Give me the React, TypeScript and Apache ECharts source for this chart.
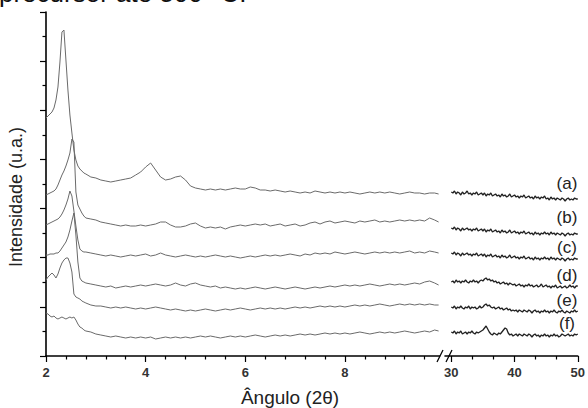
import React, { useEffect, useRef } from "react";
import * as echarts from "echarts";

// 2θ positions, low-angle panel (degrees)
const X_LEFT = [
  2, 2.04, 2.08, 2.12, 2.16, 2.2, 2.24, 2.28, 2.32, 2.36, 2.4, 2.44, 2.48, 2.52, 2.56, 2.6, 2.64, 2.68, 2.72, 2.76, 2.8,
  2.9, 3, 3.1, 3.2, 3.3, 3.4, 3.5, 3.6, 3.7, 3.8,
  3.9, 4, 4.1, 4.2, 4.3, 4.4, 4.5, 4.6, 4.7, 4.8,
  4.9, 5, 5.1, 5.2, 5.3, 5.4, 5.5, 5.6, 5.7, 5.8,
  5.9, 6, 6.1, 6.2, 6.3, 6.4, 6.5, 6.6, 6.7, 6.8,
  6.9, 7, 7.1, 7.2, 7.3, 7.4, 7.5, 7.6, 7.7, 7.8,
  7.9, 8, 8.1, 8.2, 8.3, 8.4, 8.5, 8.6, 8.7, 8.8,
  8.9, 9, 9.1, 9.2, 9.3, 9.4, 9.5, 9.6, 9.7, 9.8,
  9.88,
];

// 2θ positions, wide-angle panel (degrees)
const X_RIGHT = [
  30, 30.25, 30.5, 30.75, 31, 31.25, 31.5, 31.75, 32, 32.25, 32.5, 32.75, 33, 33.25, 33.5, 33.75, 34, 34.25, 34.5, 34.75,
  35, 35.25, 35.5, 35.75, 36, 36.25, 36.5, 36.75, 37, 37.25, 37.5, 37.75, 38, 38.25, 38.5, 38.75, 39, 39.25, 39.5, 39.75,
  40, 40.25, 40.5, 40.75, 41, 41.25, 41.5, 41.75, 42, 42.25, 42.5, 42.75, 43, 43.25, 43.5, 43.75, 44, 44.25, 44.5, 44.75,
  45, 45.25, 45.5, 45.75, 46, 46.25, 46.5, 46.75, 47, 47.25, 47.5, 47.75, 48, 48.25, 48.5, 48.75, 49, 49.25, 49.5, 49.75,
  50,
];

// Intensities (u.a., curves offset as displayed)
const A_LEFT = [
  238, 240, 242, 244, 248, 256, 269, 294, 324, 326, 296, 266, 241, 223, 206, 196, 190, 187, 185, 183, 182,
  179, 178, 176, 175, 174, 175, 176, 177, 178, 181,
  184, 189, 193, 186, 179, 176, 177, 179, 180, 176,
  170, 168, 167, 166, 167, 166, 167, 166, 167, 168,
  167, 167, 169, 168, 166, 166, 165, 166, 165, 164,
  165, 164, 163, 164, 163, 165, 164, 163, 164, 163,
  164, 163, 164, 163, 162, 163, 164, 163, 164, 163,
  164, 163, 162, 163, 164, 163, 163, 162, 163, 163,
  162,
];
const B_LEFT = [
  161, 162, 163, 164, 165, 167, 171, 176, 181, 185, 190, 196, 203, 217, 214, 164, 151, 147, 143, 140, 138,
  137, 136, 134, 133, 132, 131, 130, 131, 130, 130,
  131, 130, 131, 132, 134, 134, 131, 129, 129, 130,
  132, 133, 130, 128, 129, 128, 129, 127, 129, 130,
  131, 130, 131, 132, 131, 132, 130, 131, 132, 130,
  131, 132, 130, 131, 133, 134, 132, 134, 135, 133,
  134, 135, 134, 133, 135, 134, 135, 136, 134, 135,
  134, 135, 136, 135, 136, 135, 136, 135, 138, 136,
  134,
];
const C_LEFT = [
  131, 132, 133, 134, 135, 136, 137, 139, 142, 146, 151, 157, 165, 160, 145, 130, 116, 107, 105, 104, 104,
  103, 102, 101, 100, 101, 100, 99, 100, 101, 100,
  101, 102, 100, 101, 103, 101, 100, 99, 100, 101,
  100, 99, 100, 99, 100, 101, 100, 99, 100, 99,
  98, 99, 100, 99, 100, 101, 100, 101, 100, 101,
  102, 101, 100, 102, 101, 103, 102, 103, 102, 104,
  103, 102, 103, 104, 103, 102, 103, 104, 103, 104,
  103, 104, 103, 104, 105, 103, 104, 103, 105, 104,
  103,
];
const D_LEFT = [
  101, 101, 102, 102, 102, 103, 103, 105, 108, 111, 114, 119, 126, 135, 143, 121, 94, 78, 75, 74, 73,
  72, 71, 70, 69, 70, 68, 69, 70, 69, 70,
  71, 70, 71, 72, 71, 70, 71, 73, 71, 70,
  72, 73, 71, 70, 69, 70, 68, 69, 68, 67,
  68, 67, 68, 69, 68, 67, 68, 69, 68, 67,
  68, 69, 68, 67, 68, 69, 68, 69, 70, 69,
  70, 71, 70, 71, 70, 71, 72, 71, 70, 71,
  72, 71, 72, 71, 72, 73, 72, 74, 75, 73,
  71,
];
const E_LEFT = [
  76, 79, 81, 83, 81, 78, 82, 88, 93, 96, 98, 98, 93, 84, 62, 59, 58, 57, 55, 54, 53,
  51, 50, 50, 49, 48, 49, 48, 49, 48, 47,
  48, 47, 48, 49, 48, 47, 46, 47, 46, 45,
  46, 45, 46, 47, 46, 45, 46, 47, 46, 47,
  48, 47, 46, 47, 48, 47, 48, 47, 48, 47,
  48, 49, 48, 49, 48, 49, 50, 49, 50, 49,
  50, 49, 50, 51, 50, 51, 50, 51, 52, 51,
  50, 51, 52, 51, 52, 51, 52, 51, 52, 51,
  51,
];
const F_LEFT = [
  43, 42, 40, 39, 40, 38, 37, 38, 39, 38, 37, 38, 39, 38, 39, 36, 32, 29, 28, 26, 25,
  24, 22, 21, 20, 19, 20, 19, 18, 19, 18,
  19, 18, 19, 17, 18, 19, 18, 19, 18, 19,
  18, 19, 20, 19, 20, 19, 18, 19, 20, 19,
  20, 19, 20, 21, 20, 19, 20, 21, 20, 21,
  20, 21, 22, 21, 22, 21, 22, 23, 22, 23,
  22, 23, 22, 23, 24, 23, 22, 23, 24, 23,
  24, 23, 24, 25, 24, 23, 24, 25, 24, 26,
  25,
];

const A_RIGHT = [
  164, 163, 165, 162, 164, 163, 161, 164, 162, 163, 165, 162, 163, 161, 163, 162, 164, 161, 162, 163,
  161, 163, 160, 162, 161, 163, 160, 161, 162, 160, 161, 159, 162, 160, 161, 159, 160, 162, 159, 160,
  161, 159, 160, 158, 160, 159, 161, 158, 159, 160, 158, 159, 157, 160, 158, 159, 157, 159, 158, 160,
  157, 158, 156, 159, 157, 158, 156, 158, 157, 156, 158, 157, 155, 157, 158, 156, 157, 156, 158, 157,
  157,
];
const B_RIGHT = [
  128, 127, 129, 126, 128, 127, 125, 128, 126, 127, 128, 126, 127, 125, 127, 126, 128, 125, 126, 127,
  125, 127, 124, 126, 125, 127, 124, 125, 126, 124, 125, 123, 126, 124, 125, 123, 124, 126, 123, 124,
  125, 123, 124, 122, 124, 123, 125, 122, 123, 124, 122, 123, 121, 124, 122, 123, 121, 123, 122, 124,
  122, 123, 121, 124, 122, 123, 121, 123, 122, 121, 123, 122, 120, 122, 123, 121, 122, 121, 123, 122,
  122,
];
const C_RIGHT = [
  103, 102, 104, 101, 103, 102, 100, 103, 101, 102, 103, 101, 102, 100, 102, 101, 103, 100, 101, 102,
  100, 102, 99, 101, 100, 102, 99, 100, 101, 99, 100, 98, 101, 99, 100, 98, 99, 101, 98, 99,
  100, 98, 99, 97, 99, 98, 100, 97, 98, 99, 97, 98, 96, 99, 97, 98, 96, 98, 97, 99,
  97, 98, 96, 99, 97, 98, 96, 98, 97, 96, 98, 97, 95, 97, 98, 96, 97, 96, 98, 97,
  97,
];
const D_RIGHT = [
  74, 75, 73, 76, 74, 75, 73, 75, 74, 76, 74, 73, 75, 74, 76, 74, 75, 73, 75, 76,
  75, 77, 78, 76, 77, 75, 76, 74, 75, 73, 74, 72, 73, 74, 72, 73, 71, 73, 72, 71,
  72, 70, 71, 72, 70, 71, 69, 71, 70, 72, 70, 71, 69, 70, 71, 69, 70, 72, 69, 70,
  71, 69, 70, 68, 70, 69, 71, 68, 69, 70, 68, 69, 70, 68, 69, 71, 69, 70, 68, 70,
  70,
];
const E_RIGHT = [
  49, 48, 50, 47, 49, 48, 50, 48, 47, 49, 48, 50, 47, 49, 48, 49, 47, 48, 50, 48,
  49, 51, 52, 50, 51, 49, 48, 49, 47, 48, 49, 47, 48, 46, 47, 48, 46, 47, 45, 46,
  45, 46, 44, 46, 45, 44, 46, 45, 44, 46, 45, 43, 45, 46, 44, 45, 43, 45, 44, 46,
  44, 45, 43, 45, 44, 46, 44, 43, 45, 44, 46, 44, 43, 45, 44, 43, 45, 44, 46, 44,
  45,
];
const F_RIGHT = [
  24, 23, 25, 22, 24, 23, 25, 22, 23, 24, 22, 24, 23, 25, 23, 22, 24, 23, 24, 25,
  26, 28, 30, 27, 24, 22, 21, 23, 22, 21, 23, 22, 24, 26, 28, 27, 23, 21, 22, 20,
  21, 22, 20, 22, 21, 20, 22, 21, 20, 22, 21, 19, 21, 22, 20, 21, 19, 21, 20, 22,
  20, 21, 19, 21, 20, 22, 20, 21, 19, 20, 22, 21, 20, 21, 22, 20, 21, 20, 22, 21,
  22,
];

const SERIES_NAMES = ["(a)", "(b)", "(c)", "(d)", "(e)", "(f)"];
const LEFT_SETS = [A_LEFT, B_LEFT, C_LEFT, D_LEFT, E_LEFT, F_LEFT];
const RIGHT_SETS = [A_RIGHT, B_RIGHT, C_RIGHT, D_RIGHT, E_RIGHT, F_RIGHT];

const X_MAJOR_LEFT = [2, 4, 6, 8];
const X_MINOR_LEFT = [2.4, 2.8, 3.2, 3.6, 4.4, 4.8, 5.2, 5.6, 6.4, 6.8, 7.2, 7.6, 8.4, 8.8, 9.2, 9.6];
const X_MAJOR_RIGHT = [30, 40, 50];
const X_MINOR_RIGHT = [33.333, 36.667, 43.333, 46.667];

const TITLE_TEXT = "precursor até 500 °C.";
const Y_NAME = "Intensidade (u.a.)";
const X_NAME = "Ângulo (2θ)";

const FONT = '"Liberation Sans", Arial, Helvetica, sans-serif';

function zip(xs: number[], ys: number[]) {
  return xs.map((x, i) => [x, ys[i]]);
}

export default function App() {
  const ref = useRef<HTMLDivElement>(null);

  useEffect(() => {
    if (!ref.current) return;
    const chart = echarts.init(ref.current, undefined, { renderer: "svg" });

    const axisLine = { show: true, onZero: false, lineStyle: { color: "#000", width: 1.6 } };
    const tickStyle = { color: "#000", width: 1.2 };
    const labelStyle = {
      margin: 10,
      fontSize: 13,
      fontWeight: "bold" as const,
      color: "#333",
      fontFamily: FONT,
    };

    const series: any[] = [];
    LEFT_SETS.forEach((vals, i) => {
      series.push({
        name: SERIES_NAMES[i] + " low",
        type: "line",
        xAxisIndex: 0,
        yAxisIndex: 0,
        data: zip(X_LEFT, vals),
        showSymbol: false,
        symbol: "none",
        silent: true,
        lineStyle: { color: "#6a6a6a", width: 1 },
      });
    });
    RIGHT_SETS.forEach((vals, i) => {
      series.push({
        name: SERIES_NAMES[i] + " high",
        type: "line",
        xAxisIndex: 1,
        yAxisIndex: 1,
        data: zip(X_RIGHT, vals),
        showSymbol: false,
        symbol: "none",
        silent: true,
        lineStyle: { color: "#222", width: 1.3 },
      });
    });

    const labelY = [183, 217, 247, 275, 300, 323];

    chart.setOption({
      animation: false,
      backgroundColor: "#fff",
      grid: [
        { left: 46, top: 12, width: 393.6, height: 344 },
        { left: 445, top: 12, width: 136.7, height: 344 },
      ],
      xAxis: [
        {
          gridIndex: 0,
          type: "value",
          min: 2,
          max: 9.9,
          position: "bottom",
          axisLine,
          splitLine: { show: false },
          axisTick: { show: true, customValues: X_MAJOR_LEFT, length: 6, lineStyle: tickStyle },
          axisLabel: { ...labelStyle, customValues: X_MAJOR_LEFT },
        },
        {
          gridIndex: 1,
          type: "value",
          min: 29,
          max: 50,
          position: "bottom",
          axisLine,
          splitLine: { show: false },
          axisTick: { show: true, customValues: X_MAJOR_RIGHT, length: 6, lineStyle: tickStyle },
          axisLabel: { ...labelStyle, customValues: X_MAJOR_RIGHT },
        },
        {
          gridIndex: 0,
          type: "value",
          min: 2,
          max: 9.9,
          position: "bottom",
          axisLine: { show: false, onZero: false },
          splitLine: { show: false },
          axisTick: { show: true, customValues: X_MINOR_LEFT, length: 3.5, lineStyle: tickStyle },
          axisLabel: { show: false },
        },
        {
          gridIndex: 1,
          type: "value",
          min: 29,
          max: 50,
          position: "bottom",
          axisLine: { show: false, onZero: false },
          splitLine: { show: false },
          axisTick: { show: true, customValues: X_MINOR_RIGHT, length: 3.5, lineStyle: tickStyle },
          axisLabel: { show: false },
        },
      ],
      yAxis: [
        {
          gridIndex: 0,
          type: "value",
          min: 0,
          max: 344,
          interval: 344 / 7,
          axisLine: { show: true, onZero: false, lineStyle: { color: "#000", width: 1.6 } },
          axisTick: { show: true, length: 6, lineStyle: tickStyle },
          minorTick: { show: true, splitNumber: 2, length: 3.5, lineStyle: tickStyle },
          axisLabel: { show: false },
          splitLine: { show: false },
          minorSplitLine: { show: false },
        },
        {
          gridIndex: 1,
          type: "value",
          min: 0,
          max: 344,
          show: false,
          splitLine: { show: false },
        },
      ],
      series,
      graphic: [
        {
          type: "text",
          x: -1,
          y: -7,
          style: {
            text: TITLE_TEXT,
            font: `26px ${FONT}`,
            fill: "#111",
            textAlign: "left",
            textVerticalAlign: "middle",
          },
        },
        {
          type: "text",
          x: 16,
          y: 197,
          rotation: Math.PI / 2,
          style: {
            text: Y_NAME,
            font: `18px ${FONT}`,
            fill: "#222",
            textAlign: "center",
            textVerticalAlign: "middle",
          },
        },
        {
          type: "text",
          x: 290,
          y: 397,
          style: {
            text: X_NAME,
            font: `19px ${FONT}`,
            fill: "#222",
            textAlign: "center",
            textVerticalAlign: "middle",
          },
        },
        ...SERIES_NAMES.map((t, i) => ({
          type: "text",
          x: 567,
          y: labelY[i],
          style: {
            text: t,
            font: `17px ${FONT}`,
            fill: "#222",
            textAlign: "center",
            textVerticalAlign: "middle",
          },
        })),
        {
          type: "line",
          shape: { x1: 437, y1: 362, x2: 443, y2: 350 },
          style: { stroke: "#000", lineWidth: 1.3 },
        },
        {
          type: "line",
          shape: { x1: 446, y1: 362, x2: 452, y2: 350 },
          style: { stroke: "#000", lineWidth: 1.3 },
        },
      ],
    });

    return () => chart.dispose();
  }, []);

  return (
    <div
      ref={ref}
      style={{ position: "fixed", left: 0, top: 0, width: 588, height: 408, background: "#fff" }}
    />
  );
}
